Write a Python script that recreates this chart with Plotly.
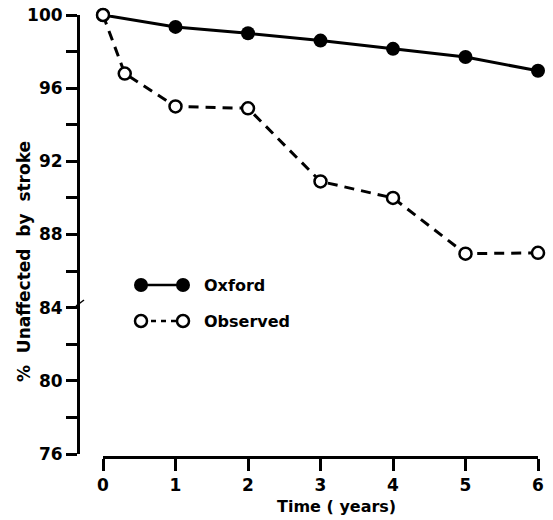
import plotly.graph_objects as go

# ---- data ----
oxford_time = [0, 1, 2, 3, 4, 5, 6]
oxford_pct = [100, 99.35, 99.0, 98.6, 98.15, 97.7, 96.95]
observed_time = [0, 0.3, 1, 2, 3, 4, 5, 6]
observed_pct = [100, 96.8, 95.0, 94.9, 90.9, 90.0, 86.95, 87.0]

y_tickvals = [76, 78, 80, 82, 84, 86, 88, 90, 92, 94, 96, 98, 100]
y_ticktext = ["76", "", "80", "", "84", "", "88", "", "92", "", "96", "", "100"]
x_tickvals = [0, 1, 2, 3, 4, 5, 6]
x_ticktext = ["0", "1", "2", "3", "4", "5", "6"]

W, H = 553, 520
OFF = 0  # page body margin removed below
ML, MR, MT, MB = 50, 10, 5, 60
PW, PH = W - ML - MR, H - MT - MB


def px(x):
    return (x - OFF - ML) / PW


def py(y):
    return 1 - (y - OFF - MT) / PH


FONT = "DejaVu Sans"
fig = go.Figure()

fig.add_trace(go.Scatter(
    x=oxford_time, y=oxford_pct, mode="lines+markers", name="Oxford",
    line=dict(color="black", width=3),
    marker=dict(symbol="circle", size=14, color="black"),
    cliponaxis=False, showlegend=False))

fig.add_trace(go.Scatter(
    x=observed_time, y=observed_pct, mode="lines+markers", name="Observed",
    line=dict(color="black", width=3, dash="10px,7px"),
    marker=dict(symbol="circle", size=12, color="white",
                line=dict(color="black", width=2.5)),
    cliponaxis=False, showlegend=False))

fig.update_layout(
    template="none",
    width=W, height=H,
    margin=dict(l=ML, r=MR, t=MT, b=MB, autoexpand=False),
    paper_bgcolor="white", plot_bgcolor="white",
    font=dict(family=FONT, color="black", size=16, weight="bold"),
    xaxis=dict(
        domain=[px(103), px(538)], range=[0, 6],
        anchor="free", position=py(457), automargin=False,
        showline=True, linecolor="black", linewidth=3,
        ticks="outside", ticklen=12, tickwidth=3, tickcolor="black",
        tickvals=x_tickvals, ticktext=x_ticktext,
        ticklabeloverflow="allow",
        tickfont=dict(size=17, family=FONT, weight="bold"),
        showgrid=False, zeroline=False),
    yaxis=dict(
        domain=[py(454), py(15)], range=[76, 100],
        anchor="free", position=px(78), automargin=False,
        showline=True, linecolor="black", linewidth=3,
        ticks="outside", ticklen=11, tickwidth=3, tickcolor="black",
        tickvals=y_tickvals, ticktext=y_ticktext,
        ticklabeloverflow="allow",
        tickfont=dict(size=17, family=FONT, weight="bold"),
        showgrid=False, zeroline=False),
)

# axis titles
fig.add_annotation(text="Time ( years)", xref="paper", yref="paper",
                   x=px(336), y=py(506), xanchor="center", yanchor="middle",
                   showarrow=False,
                   font=dict(size=16, family=FONT, weight="bold"))
fig.add_annotation(text="%  Unaffected  by  stroke", xref="paper", yref="paper",
                   x=px(24), y=py(262), xanchor="center", yanchor="middle",
                   showarrow=False, textangle=-90,
                   font=dict(size=17, family=FONT, weight="bold"))

# axis break mark
fig.add_shape(type="line", xref="paper", yref="paper",
              x0=px(76), x1=px(84), y0=py(306), y1=py(300),
              line=dict(color="black", width=1.5))

# legend
leg = [(285, "Oxford", "solid", "black", 14), (321, "Observed", "5px,5px", "white", 12)]
for ypx, label, dash, fill, size in leg:
    fig.add_shape(type="line", xref="paper", yref="paper",
                  x0=px(141), x1=px(183), y0=py(ypx), y1=py(ypx),
                  line=dict(color="black", width=2.5, dash=dash), layer="below")
    for cx in (141, 183):
        r = size / 2
        fig.add_shape(type="circle", xref="paper", yref="paper",
                      xsizemode="pixel", ysizemode="pixel",
                      xanchor=px(cx), yanchor=py(ypx),
                      x0=-r, x1=r, y0=-r, y1=r,
                      fillcolor=fill, line=dict(color="black", width=2.5 if fill == "white" else 0))
    fig.add_annotation(text=label, xref="paper", yref="paper",
                       x=px(202), y=py(ypx), xanchor="left", yanchor="middle",
                       showarrow=False,
                       font=dict(size=16, family=FONT, weight="bold"))

fig.write_html("out.html",
               config={"displayModeBar": False},
               post_script="document.body.style.margin='0';document.body.style.padding='0';")
